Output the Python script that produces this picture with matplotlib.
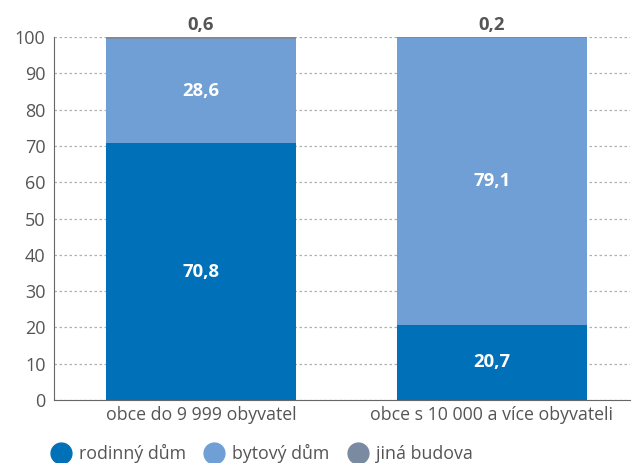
import matplotlib.pyplot as plt
from matplotlib.lines import Line2D

categories = ["obce do 9 999 obyvatel", "obce s 10 000 a více obyvateli"]
rodinny = [70.8, 20.7]
bytovy = [28.6, 79.1]
jina = [0.6, 0.2]
series_names = ["rodinný dům", "bytový dům", "jiná budova"]
colors = ["#0070b8", "#6f9fd4", "#7a8aa0"]

plt.rcParams['font.family'] = ['Open Sans', 'DejaVu Sans']
txt = "#555555"

fig = plt.figure(figsize=(6.35, 4.63), dpi=100)
ax = fig.add_axes([0.085, 0.136, 0.907, 0.784])

x = range(len(categories))
w = 0.653
ax.bar(x, rodinny, w, color=colors[0], zorder=3)
ax.bar(x, bytovy, w, bottom=rodinny, color=colors[1], zorder=3)
bot2 = [a + b for a, b in zip(rodinny, bytovy)]
ax.bar(x, jina, w, bottom=bot2, color=colors[2], zorder=3)

for i in x:
    ax.text(i, rodinny[i] / 2, f"{rodinny[i]:.1f}".replace(".", ","), ha="center", va="center",
            color="white", fontsize=13.3, fontweight="bold", zorder=4)
    ax.text(i, rodinny[i] + bytovy[i] / 2, f"{bytovy[i]:.1f}".replace(".", ","), ha="center", va="center",
            color="white", fontsize=13.3, fontweight="bold", zorder=4)
    ax.text(i, 100.9, f"{jina[i]:.1f}".replace(".", ","), ha="center", va="bottom",
            color=txt, fontsize=13.3, fontweight="bold", zorder=4)

ax.set_xlim(-0.505, 1.474)
ax.set_ylim(0, 100)
ax.set_yticks(range(0, 101, 10))
ax.set_xticks(list(x))
ax.set_xticklabels(categories)
ax.yaxis.grid(True, linestyle=(0, (2, 2)), color="#b0b0b0", linewidth=0.9, zorder=0)
for s in ["top", "right"]:
    ax.spines[s].set_visible(False)
ax.spines["left"].set_color("#666666")
ax.spines["bottom"].set_color("#666666")
ax.tick_params(axis="both", length=0, labelsize=13, labelcolor=txt, pad=6)
ax.tick_params(axis="x", labelsize=12.8, pad=4)

handles = [Line2D([], [], marker="o", linestyle="", markersize=15, color=c) for c in colors]
fig.legend(handles, series_names, loc="lower left", bbox_to_anchor=(0.05, -0.035), ncol=3,
           frameon=False, fontsize=12.8, labelcolor=txt, handletextpad=0.25, columnspacing=0.85,
           handlelength=1.5)

fig.savefig("out.png", dpi=100)
